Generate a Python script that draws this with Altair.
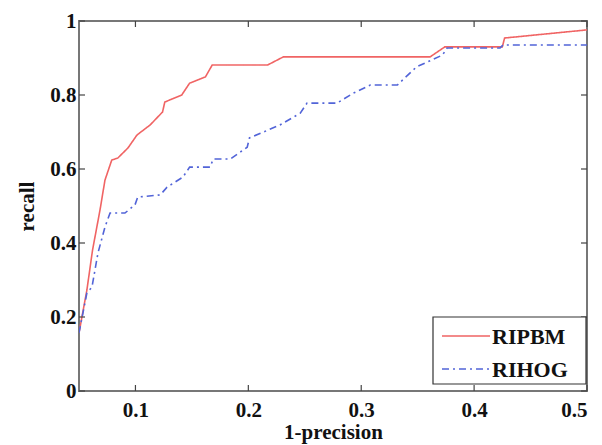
import altair as alt
import pandas as pd

# RIPBM curve (1-precision, recall)
ripbm_x = [0.05, 0.057, 0.062, 0.0686, 0.073, 0.079, 0.0845, 0.0934, 0.1014, 0.113, 0.124, 0.126,
           0.141, 0.148, 0.162, 0.168, 0.217, 0.231, 0.361, 0.374, 0.425, 0.427, 0.5]
ripbm_y = [0.157, 0.273, 0.381, 0.489, 0.570, 0.624, 0.630, 0.657, 0.692, 0.719, 0.754, 0.781,
           0.800, 0.832, 0.849, 0.881, 0.881, 0.903, 0.903, 0.930, 0.930, 0.954, 0.976]

# RIHOG curve
rihog_x = [0.05, 0.057, 0.0615, 0.0668, 0.073, 0.0775, 0.0907, 0.0996, 0.102, 0.122, 0.128, 0.142,
           0.148, 0.166, 0.169, 0.184, 0.199, 0.201, 0.228, 0.246, 0.252, 0.2785, 0.293, 0.308,
           0.332, 0.349, 0.372, 0.376, 0.423, 0.4255, 0.5]
rihog_y = [0.157, 0.265, 0.281, 0.373, 0.443, 0.481, 0.481, 0.503, 0.524, 0.530, 0.551, 0.578,
           0.605, 0.605, 0.627, 0.627, 0.659, 0.684, 0.719, 0.751, 0.778, 0.778, 0.805, 0.827,
           0.827, 0.876, 0.908, 0.927, 0.927, 0.935, 0.935]

series_names = ["RIPBM", "RIHOG"]
series_colors = ["#f06464", "#5264d8"]
series_dashes = [[1, 0], [7, 4, 2, 4]]

x_ticks = [0.1, 0.2, 0.3, 0.4, 0.5]
y_ticks = [0, 0.2, 0.4, 0.6, 0.8, 1.0]

rows = []
for i, (xx, yy) in enumerate(zip(ripbm_x, ripbm_y)):
    rows.append({"series": "RIPBM", "x": xx, "y": yy, "order": i})
for i, (xx, yy) in enumerate(zip(rihog_x, rihog_y)):
    rows.append({"series": "RIHOG", "x": xx, "y": yy, "order": i})
df = pd.DataFrame(rows)

W, H = 508, 370
FONT = "Liberation Serif"
FS = 21

xscale = alt.Scale(domain=[0.05, 0.5], nice=False, zero=False)
yscale = alt.Scale(domain=[0, 1], nice=False)

lines = alt.Chart(df).mark_line(strokeWidth=1.6, clip=True).encode(
    x=alt.X("x:Q", scale=xscale,
            axis=alt.Axis(title="1-precision", values=x_ticks, format="~g", grid=False,
                          ticks=False, tickSize=0, domain=False, labelPadding=8, titlePadding=1)),
    y=alt.Y("y:Q", scale=yscale,
            axis=alt.Axis(title="recall", values=y_ticks, format="~g", grid=False,
                          ticks=False, tickSize=0, domain=False, labelPadding=3, titlePadding=12)),
    color=alt.Color("series:N", scale=alt.Scale(domain=series_names, range=series_colors),
                    legend=None),
    strokeDash=alt.StrokeDash("series:N", scale=alt.Scale(domain=series_names, range=series_dashes),
                              legend=None),
    order="order:Q",
)

tick_color = "#444"
xt = pd.DataFrame({"v": x_ticks})
yt = pd.DataFrame({"v": y_ticks})
bottom_ticks = alt.Chart(xt).mark_rule(color=tick_color, strokeWidth=1.2).encode(
    x=alt.X("v:Q", scale=xscale), y=alt.value(H), y2=alt.value(H - 6))
top_ticks = alt.Chart(xt).mark_rule(color=tick_color, strokeWidth=1.2).encode(
    x=alt.X("v:Q", scale=xscale), y=alt.value(0), y2=alt.value(6))
left_ticks = alt.Chart(yt).mark_rule(color=tick_color, strokeWidth=1.2).encode(
    y=alt.Y("v:Q", scale=yscale), x=alt.value(0), x2=alt.value(6))
right_ticks = alt.Chart(yt).mark_rule(color=tick_color, strokeWidth=1.2).encode(
    y=alt.Y("v:Q", scale=yscale), x=alt.value(W), x2=alt.value(W - 6))

# hand-drawn legend box (MATLAB style)
lx0, lx1, ly0, ly1 = 354, 507, 296, 363
legend_layers = [
    alt.Chart(pd.DataFrame({"a": [0]})).mark_rect(fill="white", stroke="#333", strokeWidth=1.2).encode(
        x=alt.value(lx0), x2=alt.value(lx1), y=alt.value(ly0), y2=alt.value(ly1))
]
row_y = [315, 348]
for name, col, dash, ry in zip(series_names, series_colors, series_dashes, row_y):
    ldf = pd.DataFrame({"series": [name]})
    legend_layers.append(
        alt.Chart(ldf).mark_rule(color=col, strokeWidth=1.6, strokeDash=dash).encode(
            x=alt.value(363), x2=alt.value(411), y=alt.value(ry)))
    legend_layers.append(
        alt.Chart(ldf).mark_text(align="left", baseline="middle", font=FONT, fontSize=22,
                                 fontWeight="bold", color="#111").encode(
            x=alt.value(413), y=alt.value(ry + 1), text="series:N"))

chart = alt.layer(lines, bottom_ticks, top_ticks, left_ticks, right_ticks, *legend_layers).properties(
    width=W, height=H,
    autosize=alt.AutoSizeParams(type="none"),
    padding={"left": 71, "top": 13, "right": 7, "bottom": 54},
    background="white",
).configure_view(
    stroke="#777", strokeWidth=2
).configure_axis(
    labelFont=FONT, labelFontSize=FS, labelFontWeight="bold", labelColor="#111",
    titleFont=FONT, titleFontSize=21, titleFontWeight="bold", titleColor="#111",
)

chart.save("out.html", embed_options={"renderer": "svg", "actions": False})
